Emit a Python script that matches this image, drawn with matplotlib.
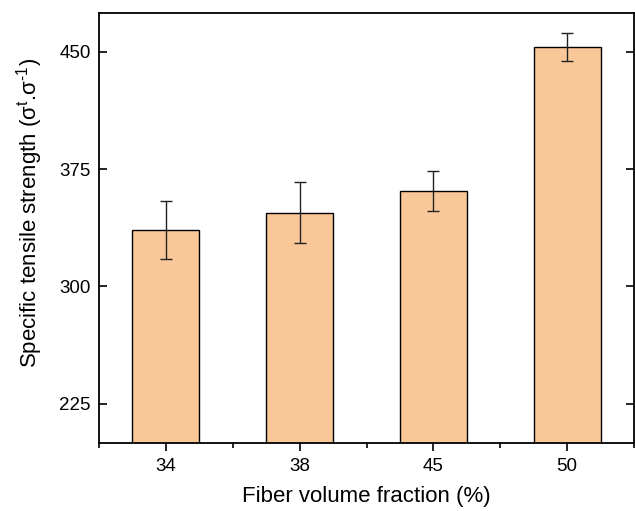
import matplotlib.pyplot as plt
import numpy as np

plt.rcParams['font.family'] = ['Liberation Sans', 'DejaVu Sans']
plt.rcParams['mathtext.fontset'] = 'custom'
plt.rcParams['mathtext.rm'] = 'Liberation Sans'
plt.rcParams['mathtext.it'] = 'Liberation Sans'

categories = ['34', '38', '45', '50']
strength = [336, 347, 361, 453]
errors = [18.5, 19.5, 12.5, 8.7]

fig = plt.figure(figsize=(6.35, 5.11), dpi=100)
ax = fig.add_axes([99 / 635, 1 - 442.7 / 511, 535 / 635, 430 / 511])

x = np.arange(len(categories))
ax.bar(x, strength, width=0.5, color='#FAC898', edgecolor='black', linewidth=1.0,
       yerr=errors, capsize=4.5, error_kw=dict(ecolor='#222222', elinewidth=1.0, capthick=1.0))

ax.set_xlim(-0.5, 3.5)
ax.set_ylim(200, 475)
ax.set_xticks(x)
ax.set_xticklabels(categories)
ax.set_xticks(np.arange(-0.5, 3.6, 1.0), minor=True)
ax.set_yticks([225, 300, 375, 450])

ax.tick_params(axis='x', which='major', direction='out', length=6, width=1.2, labelsize=13.5, pad=5)
ax.tick_params(axis='x', which='minor', direction='out', length=3.5, width=1.2)
ax.tick_params(axis='y', which='major', direction='in', length=6, width=1.2, labelsize=13.5,
               right=True, pad=6)

for s in ax.spines.values():
    s.set_linewidth(1.3)

ax.set_xlabel('Fiber volume fraction (%)', fontsize=16, labelpad=8)
ax.set_ylabel('Specific tensile strength (σ$^{\\mathrm{t}}$.σ$^{\\mathrm{\u2010}1}$)', fontsize=16, labelpad=10)
ax.yaxis.label.set_y(0.535)

plt.savefig('out.png', dpi=100)
